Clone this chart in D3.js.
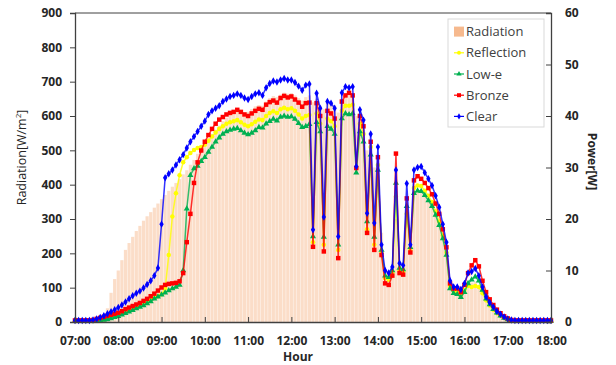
<!DOCTYPE html>
<html>
<head>
<meta charset="utf-8">
<script src="https://cdn.jsdelivr.net/npm/d3@7"></script>
<style>
  body { margin: 0; background: #fff; }
  svg text { font-family: "Open Sans", "DejaVu Sans", sans-serif; fill: #262626; }
  .axis path, .axis line { stroke: #404040; }
  .axis text { font-size: 12px; font-weight: bold; }
</style>
</head>
<body>
<svg id="chart" width="616" height="365"></svg>
<script>
// 5-minute samples, 07:00 .. 18:00
const times = [
  "07:00","07:05","07:10","07:15","07:20","07:25","07:30","07:35","07:40","07:45","07:50","07:55",
  "08:00","08:05","08:10","08:15","08:20","08:25","08:30","08:35","08:40","08:45","08:50","08:55",
  "09:00","09:05","09:10","09:15","09:20","09:25","09:30","09:35","09:40","09:45","09:50","09:55",
  "10:00","10:05","10:10","10:15","10:20","10:25","10:30","10:35","10:40","10:45","10:50","10:55",
  "11:00","11:05","11:10","11:15","11:20","11:25","11:30","11:35","11:40","11:45","11:50","11:55",
  "12:00","12:05","12:10","12:15","12:20","12:25","12:30","12:35","12:40","12:45","12:50","12:55",
  "13:00","13:05","13:10","13:15","13:20","13:25","13:30","13:35","13:40","13:45","13:50","13:55",
  "14:00","14:05","14:10","14:15","14:20","14:25","14:30","14:35","14:40","14:45","14:50","14:55",
  "15:00","15:05","15:10","15:15","15:20","15:25","15:30","15:35","15:40","15:45","15:50","15:55",
  "16:00","16:05","16:10","16:15","16:20","16:25","16:30","16:35","16:40","16:45","16:50","16:55",
  "17:00","17:05","17:10","17:15","17:20","17:25","17:30","17:35","17:40","17:45","17:50","17:55",
  "18:00"
];

// Radiation [W/m2]
const radiation = [
  0,0,0,0,0,0,0,0,5,40,85,125,
  150,180,210,230,248,265,280,295,308,320,333,345,
  358,370,382,394,405,416,430,442,458,472,490,505,
  520,535,548,560,572,585,595,605,612,618,615,610,
  612,620,628,632,630,642,652,658,655,662,668,665,
  667,660,652,645,655,660,640,650,630,620,640,635,
  630,610,650,660,665,660,600,590,560,500,520,450,
  480,260,145,140,155,300,165,160,320,250,370,380,
  378,365,350,335,315,290,255,210,110,88,86,80,
  95,110,115,118,105,80,58,45,33,25,17,12,
  8,5,3,2,1,0,0,0,0,0,0,0,
  0
];

// Power [W]
const reflection = [
  0.2,0.2,0.2,0.2,0.2,0.2,0.3,0.4,0.5,0.7,0.9,1.1,
  1.4,1.7,2.0,2.3,2.6,2.9,3.2,3.5,3.9,4.3,4.7,5.0,
  5.4,6.5,13.0,20.5,25.0,28.5,31.0,32.0,32.8,33.4,33.8,34.0,
  34.4,35.2,36.0,36.8,37.5,38.0,38.5,38.8,39.0,39.2,38.8,38.3,
  38.0,38.4,38.9,39.3,39.2,40.0,40.6,40.9,40.6,41.3,41.6,41.3,
  41.5,41.0,40.3,39.5,40.0,40.2,15.5,40.5,38.5,15.0,39.5,39.0,
  38.0,14.0,41.0,42.0,42.0,42.2,30.0,38.5,36.5,18.0,34.0,15.0,
  30.5,13.5,8.5,8.2,9.6,24.3,10.0,9.8,21.0,14.0,26.0,26.5,
  26.4,25.5,24.5,23.3,21.5,19.5,16.8,13.5,7.0,6.0,5.8,5.3,
  6.2,7.0,6.8,7.0,6.8,5.6,4.2,3.2,2.4,1.7,1.2,0.8,
  0.5,0.3,0.2,0.2,0.2,0.2,0.2,0.2,0.2,0.2,0.2,0.2,
  0.2
];

const lowE = [
  0.2,0.2,0.2,0.2,0.2,0.2,0.2,0.3,0.4,0.5,0.7,0.9,
  1.1,1.4,1.7,2.0,2.3,2.6,2.9,3.2,3.6,4.0,4.5,4.9,
  5.3,5.7,6.1,6.5,6.8,7.2,10.0,22.0,28.5,29.8,30.3,31.2,
  32.0,33.0,34.0,35.0,35.8,36.5,37.0,37.3,37.5,37.6,37.2,36.7,
  36.4,36.7,37.2,37.8,37.7,38.5,39.0,39.4,39.1,39.8,40.0,39.8,
  39.9,39.4,38.6,37.8,38.0,38.4,16.6,38.8,37.0,16.5,38.0,37.5,
  36.5,15.0,39.5,40.5,40.3,40.5,29.0,37.0,35.0,19.5,32.5,16.5,
  29.5,14.0,9.0,8.7,10.0,27.0,10.5,10.2,22.5,14.5,25.0,25.5,
  25.4,24.6,23.6,22.5,20.8,18.8,16.2,13.0,6.5,5.6,5.4,4.8,
  5.8,7.5,8.2,8.8,8.0,6.2,4.5,3.4,2.5,1.8,1.2,0.8,
  0.5,0.3,0.2,0.2,0.2,0.2,0.2,0.2,0.2,0.2,0.2,0.2,
  0.2
];

const bronze = [
  0.3,0.3,0.3,0.3,0.3,0.4,0.6,0.8,1.0,1.2,1.4,1.6,
  1.8,2.1,2.5,2.8,3.1,3.4,3.7,4.1,4.5,5.0,5.5,6.1,
  6.7,7.2,7.4,7.5,7.6,7.9,9.5,15.5,21.0,27.0,31.0,33.3,
  35.0,36.3,37.5,38.5,39.3,39.8,40.3,40.6,40.8,41.2,40.8,40.3,
  40.0,40.5,41.0,41.4,41.2,42.2,42.7,43.0,42.6,43.5,43.9,43.6,
  43.8,43.2,42.6,41.8,42.5,42.6,14.6,42.5,40.0,13.7,41.0,40.5,
  39.5,12.4,42.8,44.0,44.5,44.0,29.9,40.0,38.0,17.3,35.0,14.0,
  32.0,13.0,7.5,7.2,9.0,32.7,9.5,9.2,24.0,13.5,27.5,28.3,
  27.8,27.0,26.0,24.8,23.0,21.0,18.0,14.5,7.5,6.5,6.5,5.8,
  7.2,9.5,11.0,12.0,10.8,8.0,5.8,4.4,3.3,2.4,1.7,1.1,
  0.7,0.4,0.3,0.3,0.3,0.3,0.3,0.3,0.3,0.3,0.3,0.3,
  0.3
];

const clear = [
  0.3,0.3,0.3,0.3,0.3,0.4,0.6,0.9,1.2,1.6,2.0,2.4,
  2.8,3.3,3.9,4.5,5.1,5.6,6.0,6.6,7.3,8.0,9.0,10.5,
  19.0,28.0,28.8,29.5,30.5,31.5,32.5,33.8,35.0,36.0,37.0,38.0,
  39.0,40.3,41.0,41.5,42.0,42.8,43.3,43.8,44.0,44.3,44.0,43.5,
  43.2,43.8,44.3,44.5,44.0,45.5,46.3,46.8,46.6,47.0,47.3,47.0,
  47.0,46.5,45.8,45.0,46.0,46.2,17.9,44.4,41.5,20.4,42.8,42.5,
  41.5,16.6,44.5,45.7,45.5,45.7,30.2,41.2,39.2,21.1,36.5,19.2,
  34.0,15.0,10.0,9.5,10.7,29.5,11.4,11.0,26.9,15.0,29.5,30.0,
  30.2,29.0,27.8,26.5,24.5,22.3,19.0,15.5,8.0,6.8,6.8,6.3,
  7.5,9.5,9.8,10.4,9.0,6.8,4.9,3.8,2.9,2.1,1.5,1.0,
  0.6,0.4,0.3,0.3,0.3,0.3,0.3,0.3,0.3,0.3,0.3,0.3,
  0.3
];

const hourLabels = ["07:00","08:00","09:00","10:00","11:00","12:00","13:00","14:00","15:00","16:00","17:00","18:00"];
const radTicks = [0,100,200,300,400,500,600,700,800,900];
const powerTicks = [0,10,20,30,40,50,60];

const seriesNames = ["Reflection","Low-e","Bronze","Clear"];
const seriesColors = ["#FFFF00","#00B050","#FF0000","#0000FF"];
const seriesSymbols = [d3.symbolCircle, d3.symbolTriangle, d3.symbolSquare, d3.symbolDiamond];
const seriesValues = [reflection, lowE, bronze, clear];

const toMin = (s) => { const p = s.split(":"); return (+p[0] - 7) * 60 + (+p[1]); };

const svg = d3.select("#chart"),
    margin = {top: 13, right: 65, bottom: 43, left: 75},
    width = +svg.attr("width") - margin.left - margin.right,
    height = +svg.attr("height") - margin.top - margin.bottom;

const x = d3.scaleLinear().domain([0, 660]).range([0, width]);
const yR = d3.scaleLinear().domain([0, 900]).range([height, 0]);
const yP = d3.scaleLinear().domain([0, 60]).range([height, 0]);

const g = svg.append("g")
    .attr("transform", "translate(" + margin.left + "," + margin.top + ")");

// radiation bars
const step = x(toMin(times[1])) - x(toMin(times[0]));
g.append("g")
    .selectAll("rect")
    .data(times.map((t, i) => ({t: toMin(t), v: radiation[i]})))
    .enter()
    .append("rect")
    .attr("x", (d) => x(d.t) - step / 2 + 0.2)
    .attr("width", step - 0.4)
    .attr("y", (d) => yR(d.v))
    .attr("height", (d) => height - yR(d.v))
    .attr("fill", "#F8C7A3")
    .attr("fill-opacity", 0.6);

// power lines
const line = d3.line()
    .x((d) => x(d.t))
    .y((d) => yP(d.v));

seriesValues.forEach((vals, k) => {
    const pts = times.map((t, i) => ({t: toMin(t), v: vals[i]}));
    const sg = g.append("g");
    sg.append("path")
        .datum(pts)
        .attr("fill", "none")
        .attr("stroke", seriesColors[k])
        .attr("stroke-opacity", 0.8)
        .attr("stroke-width", 1.5)
        .attr("d", line);
    sg.selectAll("path.m")
        .data(pts)
        .enter()
        .append("path")
        .attr("class", "m")
        .attr("transform", (d) => "translate(" + x(d.t) + "," + yP(d.v) + ")")
        .attr("d", d3.symbol().type(seriesSymbols[k]).size(k == 2 ? 20 : 16))
        .attr("fill", seriesColors[k]);
});

// axes
g.append("g")
    .attr("class", "axis")
    .attr("transform", "translate(0," + height + ")")
    .call(d3.axisBottom(x)
        .tickValues(hourLabels.map(toMin))
        .tickSize(-5)
        .tickPadding(14)
        .tickFormat((d, i) => hourLabels[i]));

g.append("g")
    .attr("class", "axis")
    .call(d3.axisLeft(yR)
        .tickValues(radTicks)
        .tickSize(5)
        .tickPadding(8)
        .tickFormat(d3.format("d")));

g.append("g")
    .attr("class", "axis")
    .attr("transform", "translate(" + width + ",0)")
    .call(d3.axisRight(yP)
        .tickValues(powerTicks)
        .tickSize(-5)
        .tickPadding(14)
        .tickFormat(d3.format("d")));

g.append("line")
    .attr("x1", 0).attr("x2", width)
    .attr("y1", 0).attr("y2", 0)
    .attr("stroke", "#404040");

g.selectAll(".axis .domain").attr("stroke-width", 1.3);

// axis titles
svg.append("text")
    .attr("transform", "translate(22," + (margin.top + height / 2 - 10) + ") rotate(-90)")
    .attr("text-anchor", "middle")
    .attr("dy", "0.35em")
    .style("font-size", "12.5px")
    .html("Radiation[W/m<tspan baseline-shift='super' font-size='8px'>2</tspan>]");

svg.append("text")
    .attr("transform", "translate(592," + (margin.top + height / 2 - 6) + ") rotate(90)")
    .attr("text-anchor", "middle")
    .attr("dy", "0.35em")
    .style("font-size", "12px")
    .style("font-weight", "bold")
    .text("Power[W]");

svg.append("text")
    .attr("x", 298)
    .attr("y", 361)
    .attr("text-anchor", "middle")
    .style("font-size", "12px")
    .style("font-weight", "bold")
    .text("Hour");

// legend
const legend = svg.append("g").attr("transform", "translate(448,19)");
legend.append("rect")
    .attr("width", 96).attr("height", 108)
    .attr("fill", "#fff")
    .attr("stroke", "#d9d9d9");

const legRow = d3.scaleBand()
    .domain(["Radiation"].concat(seriesNames))
    .range([2, 108]);

legend.append("rect")
    .attr("x", 6).attr("y", legRow("Radiation") + legRow.bandwidth() / 2 - 5)
    .attr("width", 10).attr("height", 10)
    .attr("fill", "#F6B98E");

seriesNames.forEach((name, k) => {
    const cy = legRow(name) + legRow.bandwidth() / 2;
    legend.append("line")
        .attr("x1", 6).attr("x2", 16)
        .attr("y1", cy).attr("y2", cy)
        .attr("stroke", seriesColors[k]).attr("stroke-width", 1.2);
    legend.append("path")
        .attr("transform", "translate(11," + cy + ")")
        .attr("d", d3.symbol().type(seriesSymbols[k]).size(k == 2 ? 16 : 12))
        .attr("fill", seriesColors[k]);
});

legend.selectAll("text.lab")
    .data(["Radiation"].concat(seriesNames))
    .enter()
    .append("text")
    .attr("class", "lab")
    .attr("x", 18)
    .attr("y", (d) => legRow(d) + legRow.bandwidth() / 2)
    .attr("dy", "0.35em")
    .style("font-size", "13px")
    .style("fill", "#404040")
    .text((d) => d);
</script>
</body>
</html>
